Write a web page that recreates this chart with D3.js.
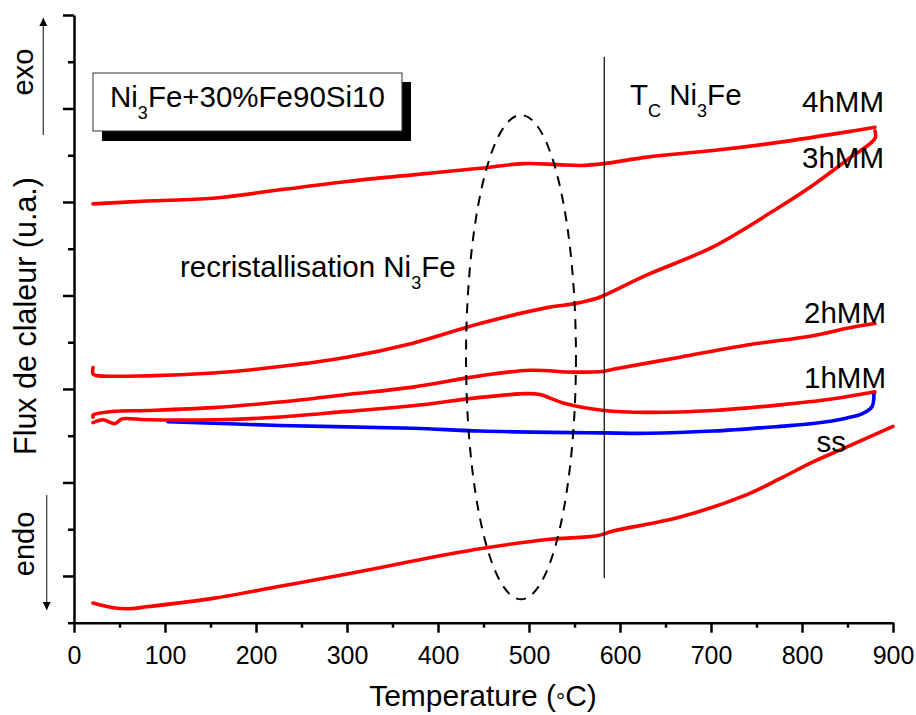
<!DOCTYPE html>
<html><head><meta charset="utf-8">
<script src="https://cdn.jsdelivr.net/npm/d3@7"></script>
<style>body{margin:0;background:#fff}svg{display:block}text{font-family:"Liberation Sans",Arial,sans-serif;fill:#000}</style>
</head><body><svg id="c" width="916" height="715"></svg>
<script>
// ---- data (temperature °C, heat flux a.u.) ----
const xTicks = [0,100,200,300,400,500,600,700,800,900];
const xMinor = [50,150,250,350,450,550,650,750,850];
const yMajor = [5,15,25,35,45,55,65];
const yMinor = [0,10,20,30,40,50,60];

const t4h = [20.9,80.2,152.7,226.4,300,372.5,446.2,493.4,530.8,556,582.4,629.7,702.2,775.8,849.5,880.2];
const v4h = [44.8,45.1,45.4,46.3,47.2,47.9,48.6,49.1,49.0,48.9,49.1,49.8,50.5,51.4,52.5,53.0];

const t3h = [20.9,20.9,24,80.2,152.7,226.4,300,372.5,446.2,519.8,548.4,574.7,582.4,629.7,702.2,775.8,812,849.5,880.2,880.2];
const v3h = [27.3,26.6,26.45,26.4,26.7,27.4,28.4,29.9,32.0,33.7,34.1,34.7,35.0,37.2,40.2,44.5,46.8,49.5,51.8,52.6];

const t2h = [20.9,20.9,42.9,80.2,152.7,226.4,300,372.5,446.2,501.1,548.4,582.4,592.3,665.9,739.6,812,849.5,880.2];
const v2h = [22.0,22.2,22.6,22.7,23.0,23.6,24.4,25.2,26.4,27.0,26.8,26.9,27.1,28.4,29.7,30.7,31.5,32.0];

const t1h = [20.9,31.9,45,52.7,80.2,152.7,226.4,300,372.5,446.2,497.8,512,537.4,582.4,629.7,702.2,775.8,830.8,880.2];
const v1h = [21.4,21.7,21.3,21.8,21.7,21.7,22.0,22.6,23.2,24.1,24.5,24.4,23.5,22.7,22.5,22.7,23.3,23.9,24.7];

const tBlue = [103.3,226.4,372.5,446.2,582.4,629.7,702.2,775.8,812,849.5,867,876.9,879];
const vBlue = [21.5,21.1,20.8,20.5,20.3,20.26,20.5,21.0,21.3,21.9,22.4,23.1,24.6];

const tSS = [20.9,42.9,61.5,80.2,152.7,226.4,300,372.5,446.2,519.8,574.7,592.3,665.9,739.6,775.8,812,849.5,900];
const vSS = [2.1,1.6,1.5,1.7,2.6,3.9,5.2,6.6,7.9,8.9,9.3,9.8,11.3,13.7,15.4,17.2,18.8,21.0];

const seriesNames = ["4hMM","3hMM","2hMM","1hMM","ss"];
const tCurie = 582.7;
const ellipseT = 491.2, ellipseV = 28.4, ellipseRT = 60.4, ellipseRV = 25.9;

// ---- drawing ----
const svg = d3.select("#c");
const x = d3.scaleLinear().domain([0,900]).range([74,893]);
const y = d3.scaleLinear().domain([0,65]).range([622.7,15]);

const line = d3.line().x(d=>x(d[0])).y(d=>y(d[1])).curve(d3.curveCatmullRom.alpha(0.5));
const zip = (a,b)=>a.map((t,i)=>[t,b[i]]);
const FS = 29.5;

// legend box with shadow
svg.append("rect").attr("x",102).attr("y",82).attr("width",309).attr("height",59).attr("fill","#000");
svg.append("rect").attr("x",93).attr("y",73).attr("width",309).attr("height",58).attr("fill","#fff").attr("stroke","#333").attr("stroke-width",1);
const lg = svg.append("text").attr("x",110).attr("y",107).attr("font-size",FS);
lg.append("tspan").text("Ni");
lg.append("tspan").attr("font-size",18).attr("dy",12).text("3");
lg.append("tspan").attr("dy",-12).text("Fe+30%Fe90Si10");

// curves
const curves = [
  {t:t4h,v:v4h,c:"#ff0000"},
  {t:t3h,v:v3h,c:"#ff0000"},
  {t:t2h,v:v2h,c:"#ff0000"},
  {t:tBlue,v:vBlue,c:"#0000ff"},
  {t:t1h,v:v1h,c:"#ff0000"},
  {t:tSS,v:vSS,c:"#ff0000"}
];
curves.forEach(s=>{
  svg.append("path").attr("d",line(zip(s.t,s.v))).attr("fill","none")
    .attr("stroke",s.c).attr("stroke-width",3.6).attr("stroke-linecap","round").attr("stroke-linejoin","round");
});

// Curie line
svg.append("line").attr("x1",x(tCurie)).attr("x2",x(tCurie)).attr("y1",y(60.5)).attr("y2",y(4.75))
  .attr("stroke","#000").attr("stroke-width",1.2);

// dashed ellipse
svg.append("ellipse").attr("cx",x(ellipseT)).attr("cy",y(ellipseV))
  .attr("rx",x(ellipseT+ellipseRT)-x(ellipseT)).attr("ry",y(ellipseV-ellipseRV)-y(ellipseV))
  .attr("fill","none").attr("stroke","#000").attr("stroke-width",2).attr("stroke-dasharray","10,8");

// axes
const ax = svg.append("g").attr("transform",`translate(0,${y(0)})`)
  .call(d3.axisBottom(x).tickValues(xTicks).tickSize(10).tickSizeOuter(0).tickPadding(13.5));
ax.select(".domain").attr("stroke-width",2.5);
ax.selectAll(".tick line").attr("stroke-width",2.5);
ax.selectAll(".tick text").attr("font-size",25).attr("font-family","Liberation Sans, Arial, sans-serif");
const axm = svg.append("g").attr("transform",`translate(0,${y(0)})`)
  .call(d3.axisBottom(x).tickValues(xMinor).tickSize(5).tickFormat(""));
axm.select(".domain").remove();
axm.selectAll(".tick line").attr("stroke-width",2.5);

const ay = svg.append("g").attr("transform",`translate(${x(0)},0)`)
  .call(d3.axisLeft(y).tickValues(yMajor).tickSize(11).tickSizeOuter(0).tickFormat(""));
ay.select(".domain").attr("stroke-width",2.5);
ay.selectAll(".tick line").attr("stroke-width",2.5);
const aym = svg.append("g").attr("transform",`translate(${x(0)},0)`)
  .call(d3.axisLeft(y).tickValues(yMinor).tickSize(6).tickFormat(""));
aym.select(".domain").remove();
aym.selectAll(".tick line").attr("stroke-width",2.5);

// axis titles
const xt = svg.append("text").attr("x",483).attr("y",706).attr("font-size",30).attr("text-anchor","middle");
xt.append("tspan").text("Temperature (");
xt.append("tspan").attr("font-size",23).attr("dy",3).text("°");
xt.append("tspan").attr("dy",-3).text("C)");

svg.append("text").attr("transform","translate(36,316) rotate(-90)").attr("text-anchor","middle")
  .attr("font-size",30.5).text("Flux de claleur (u.a.)");
svg.append("text").attr("transform","translate(33,72) rotate(-90)").attr("text-anchor","middle")
  .attr("font-size",29).text("exo");
svg.append("text").attr("transform","translate(34,544) rotate(-90)").attr("text-anchor","middle")
  .attr("font-size",29).text("endo");

// arrows
const defs = svg.append("defs");
defs.append("marker").attr("id","ah").attr("viewBox","0 0 10 10").attr("refX",10).attr("refY",5)
  .attr("markerWidth",8).attr("markerHeight",13).attr("markerUnits","userSpaceOnUse").attr("orient","auto")
  .append("path").attr("d","M0,0L10,5L0,10Z").attr("fill","#000");
svg.append("line").attr("x1",43.3).attr("x2",43.3).attr("y1",135).attr("y2",18)
  .attr("stroke","#333").attr("stroke-width",1.2).attr("marker-end","url(#ah)");
svg.append("line").attr("x1",46.7).attr("x2",46.7).attr("y1",495).attr("y2",610)
  .attr("stroke","#333").attr("stroke-width",1.2).attr("marker-end","url(#ah)");

// annotations
const tc = svg.append("text").attr("x",630).attr("y",105).attr("font-size",FS);
tc.append("tspan").text("T");
tc.append("tspan").attr("font-size",18).attr("dy",12).text("C");
tc.append("tspan").attr("dy",-12).text(" Ni");
tc.append("tspan").attr("font-size",18).attr("dy",12).text("3");
tc.append("tspan").attr("dy",-12).text("Fe");

const rc = svg.append("text").attr("x",180).attr("y",277).attr("font-size",FS);
rc.append("tspan").text("recristallisation Ni");
rc.append("tspan").attr("font-size",18).attr("dy",12).text("3");
rc.append("tspan").attr("dy",-12).text("Fe");

const labelPos = [[884,111.7],[884,168.3],[886,323.3],[886,388.3],[846,451.7]];
seriesNames.forEach((n,i)=>{
  svg.append("text").attr("x",labelPos[i][0]).attr("y",labelPos[i][1]).attr("font-size",FS)
    .attr("text-anchor","end").text(n);
});
</script></body></html>
